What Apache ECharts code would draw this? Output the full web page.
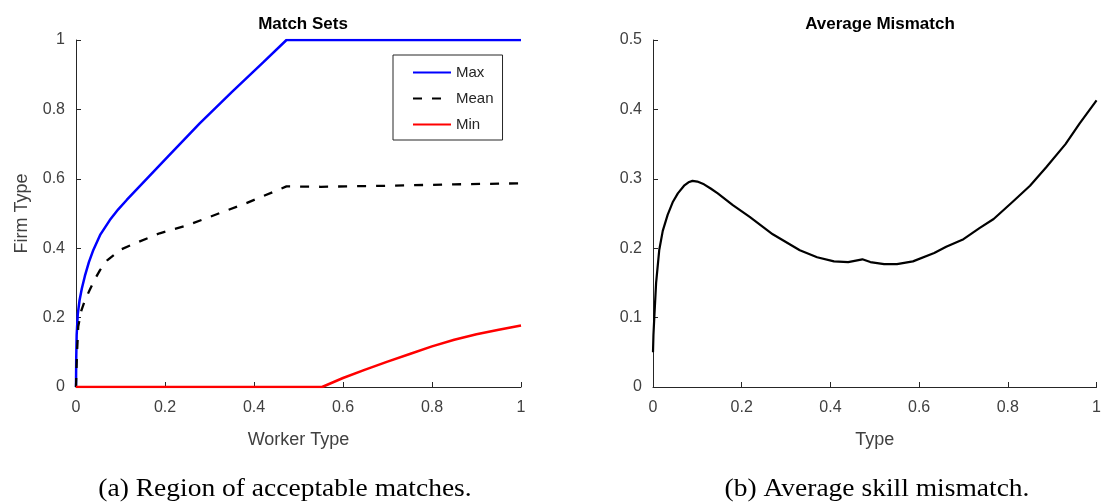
<!DOCTYPE html>
<html>
<head>
<meta charset="utf-8">
<script src="https://cdn.jsdelivr.net/npm/echarts@6/dist/echarts.min.js"></script>
<style>
html,body{margin:0;padding:0;background:#fff;}
#chart{width:1104px;height:503px;}
</style>
</head>
<body>
<div id="chart"></div>
<script>
// ---- Data ----
const xTicks = [0, 0.2, 0.4, 0.6, 0.8, 1];
const leftYTicks = [0, 0.2, 0.4, 0.6, 0.8, 1];
const rightYTicks = [0, 0.1, 0.2, 0.3, 0.4, 0.5];

const maxX = [0, 0.0005, 0.0015, 0.004, 0.008, 0.013, 0.02, 0.029, 0.039, 0.055, 0.076, 0.095, 0.114, 0.2, 0.278, 0.35, 0.42, 0.473, 0.6, 0.8, 1];
const maxY = [0, 0.08, 0.15, 0.21, 0.25, 0.283, 0.32, 0.36, 0.395, 0.44, 0.481, 0.512, 0.539, 0.655, 0.76, 0.85, 0.935, 1, 1, 1, 1];

const meanX = [0, 0.002, 0.005, 0.012, 0.02, 0.031, 0.042, 0.054, 0.07, 0.099, 0.14, 0.188, 0.25, 0.30, 0.383, 0.473, 0.55, 0.7, 0.85, 1];
const meanY = [0, 0.09, 0.174, 0.22, 0.25, 0.28, 0.31, 0.337, 0.365, 0.395, 0.418, 0.443, 0.466, 0.49, 0.53, 0.578, 0.577, 0.58, 0.584, 0.587];

const minX = [0, 0.553, 0.6, 0.65, 0.7, 0.75, 0.8, 0.85, 0.9, 0.95, 1];
const minY = [0, 0, 0.026, 0.05, 0.073, 0.095, 0.117, 0.136, 0.152, 0.165, 0.177];

const misX = [0, 0.001, 0.003, 0.007, 0.014, 0.022, 0.033, 0.045, 0.056, 0.07, 0.08, 0.089, 0.1, 0.115, 0.13, 0.146, 0.18, 0.218, 0.27, 0.331, 0.37, 0.408, 0.44, 0.472, 0.49, 0.521, 0.55, 0.586, 0.634, 0.661, 0.7, 0.736, 0.768, 0.811, 0.85, 0.887, 0.93, 0.962, 1];
const misY = [0.05, 0.075, 0.101, 0.15, 0.197, 0.225, 0.248, 0.267, 0.279, 0.29, 0.295, 0.297, 0.296, 0.292, 0.286, 0.279, 0.262, 0.245, 0.22, 0.197, 0.187, 0.181, 0.18, 0.184, 0.18, 0.177, 0.177, 0.181, 0.193, 0.202, 0.213, 0.229, 0.242, 0.267, 0.29, 0.317, 0.35, 0.38, 0.413];

const pairs = (xs, ys) => xs.map((x, i) => [x, ys[i]]);

const AX = '#262626';
const LBL = '#404040';
const FONT = '"Liberation Sans", Arial, sans-serif';
const SERIF = '"Liberation Serif", "DejaVu Serif", serif';

function xAxisCfg(grid, name) {
  return {
    type: 'value', gridIndex: grid, min: 0, max: 1, interval: 0.2,
    name: name, nameLocation: 'middle', nameGap: 44,
    nameTextStyle: { fontSize: 18, color: LBL, fontFamily: FONT },
    axisLine: { show: true, onZero: false, lineStyle: { color: AX, width: 1 } },
    axisTick: { show: true, inside: true, length: 5, lineStyle: { color: AX } },
    axisLabel: { fontSize: 16, color: LBL, fontFamily: FONT, margin: 13 },
    splitLine: { show: false }
  };
}
function yAxisCfg(grid, max, interval, name) {
  return {
    type: 'value', gridIndex: grid, min: 0, max: max, interval: interval,
    name: name || '', nameLocation: 'middle', nameGap: 45,
    nameTextStyle: { fontSize: 18, color: LBL, fontFamily: FONT },
    axisLine: { show: true, onZero: false, lineStyle: { color: AX, width: 1 } },
    axisTick: { show: true, inside: true, length: 5, lineStyle: { color: AX } },
    axisLabel: { fontSize: 16, color: LBL, fontFamily: FONT, margin: 11 },
    splitLine: { show: false }
  };
}

const chart = echarts.init(document.getElementById('chart'), null, { renderer: 'canvas' });
chart.setOption({
  backgroundColor: '#ffffff',
  animation: false,
  title: [
    { text: 'Match Sets', left: 298, top: 11, textAlign: 'center',
      textStyle: { fontSize: 17, fontWeight: 'bold', color: '#000', fontFamily: FONT } },
    { text: 'Average Mismatch', left: 875, top: 11, textAlign: 'center',
      textStyle: { fontSize: 17, fontWeight: 'bold', color: '#000', fontFamily: FONT } }
  ],
  grid: [
    { left: 76, top: 40, width: 445, height: 347, containLabel: false },
    { left: 653, top: 40, width: 444, height: 347, containLabel: false }
  ],
  xAxis: [xAxisCfg(0, 'Worker Type'), xAxisCfg(1, 'Type')],
  yAxis: [yAxisCfg(0, 1, 0.2, 'Firm Type'), yAxisCfg(1, 0.5, 0.1)],
  legend: {
    show: true, orient: 'vertical', left: 393, top: 55,
    padding: [10, 9, 8, 19], itemGap: 11, itemWidth: 38, itemHeight: 14,
    borderColor: AX, borderWidth: 1, backgroundColor: '#fff',
    itemStyle: { color: 'transparent', borderWidth: 0, opacity: 0 },
    textStyle: { fontSize: 15, color: '#262626', fontFamily: FONT },
    data: ['Max', 'Mean', 'Min']
  },
  series: [
    { name: 'Max', type: 'line', xAxisIndex: 0, yAxisIndex: 0, data: pairs(maxX, maxY),
      symbol: 'none', smooth: false, lineStyle: { color: '#0000ff', width: 2.5 }, itemStyle: { color: '#0000ff' } },
    { name: 'Mean', type: 'line', xAxisIndex: 0, yAxisIndex: 0, data: pairs(meanX, meanY),
      symbol: 'none', smooth: false, lineStyle: { color: '#000', width: 2.3, type: [9, 10] }, itemStyle: { color: '#000' } },
    { name: 'Min', type: 'line', xAxisIndex: 0, yAxisIndex: 0, data: pairs(minX, minY),
      symbol: 'none', smooth: false, lineStyle: { color: '#ff0000', width: 2.5 }, itemStyle: { color: '#ff0000' } },
    { name: 'Mismatch', type: 'line', xAxisIndex: 1, yAxisIndex: 1, data: pairs(misX, misY),
      symbol: 'none', smooth: false, lineStyle: { color: '#000', width: 2.2, join: 'round' }, itemStyle: { color: '#000' } }
  ],
  graphic: [
    { type: 'text', x: 285, y: 489, scaleX: 1.1, style: { text: '(a) Region of acceptable matches.', x: 0, y: 0,
      align: 'center', verticalAlign: 'middle', fontSize: 25, fontFamily: SERIF, fill: '#000' } },
    { type: 'text', x: 877, y: 489, scaleX: 1.1, style: { text: '(b) Average skill mismatch.', x: 0, y: 0,
      align: 'center', verticalAlign: 'middle', fontSize: 25, fontFamily: SERIF, fill: '#000' } }
  ]
});
</script>
</body>
</html>
